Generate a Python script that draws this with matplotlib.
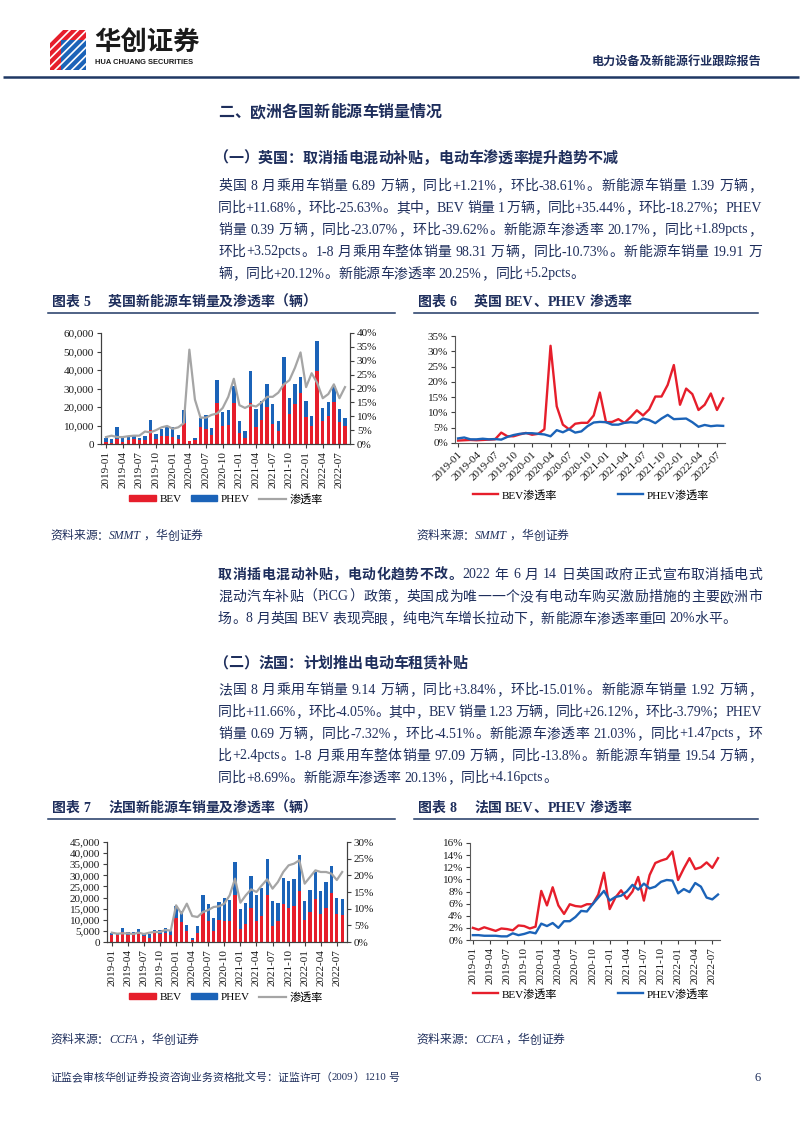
import re
import numpy as np
import pandas as pd
import matplotlib
matplotlib.use('Agg')
import matplotlib.pyplot as plt
from matplotlib.patches import Patch, Polygon
from matplotlib.lines import Line2D
from matplotlib.ticker import FuncFormatter, PercentFormatter, MultipleLocator
from matplotlib.font_manager import FontProperties, findfont, get_font

plt.rcParams['font.family'] = ['Liberation Serif', 'Noto Sans CJK SC']
plt.rcParams['hatch.linewidth'] = 1.2

# ---------------- data ----------------
months = pd.period_range('2019-01', '2022-08', freq='M').strftime('%Y-%m').tolist()

# UK monthly sales (units)
uk_bev = [1000, 800, 2600, 1000, 2000, 2500, 2000, 2000, 7500, 2800, 4500, 4500,
          4000, 2500, 11500, 1500, 2000, 9000, 8000, 5000, 22000, 9500, 10500, 22000,
          6000, 3500, 22000, 9000, 13000, 20000, 11000, 7000, 32500, 16000, 21500, 27500,
          14500, 10000, 39500, 12500, 15000, 22500, 12000, 10000]
uk_phev = [2000, 1700, 6400, 2000, 2500, 2500, 1500, 2500, 5500, 2700, 3500, 4500,
           5000, 2500, 7000, 300, 1500, 5000, 7500, 3500, 12500, 8000, 8000, 9500,
           6500, 3500, 17500, 10000, 10000, 12500, 10500, 5500, 14500, 9000, 11000, 8500,
           9000, 5000, 16000, 7000, 7500, 9000, 7000, 3900]
uk_pen = [2.5, 3.0, 2.5, 2.5, 2.8, 3.0, 3.0, 4.5, 4.2, 5.0, 6.0, 6.5,
          5.5, 6.0, 7.5, 34.0, 16.0, 9.5, 9.5, 10.5, 11.0, 13.0, 17.0, 23.5,
          14.0, 13.0, 14.0, 13.5, 15.0, 17.0, 17.0, 18.5, 21.5, 23.0, 27.5, 33.0,
          20.5, 25.5, 22.0, 16.5, 18.0, 21.5, 16.5, 20.5]
uk_bev_pen = [0.8, 0.9, 1.0, 0.9, 1.0, 1.1, 1.2, 3.4, 2.2, 2.2, 2.8, 3.3,
              2.7, 3.0, 4.5, 31.8, 12.0, 6.0, 4.5, 6.3, 6.6, 6.6, 9.0, 16.5,
              6.8, 6.9, 7.8, 6.6, 8.5, 10.7, 9.0, 11.0, 15.2, 15.2, 19.0, 25.5,
              12.5, 17.8, 16.0, 10.8, 12.5, 16.2, 10.8, 14.6]
uk_phev_pen = [1.5, 1.8, 1.2, 1.2, 1.4, 1.2, 1.3, 1.1, 2.0, 2.6, 3.0, 3.2,
               3.2, 3.0, 2.8, 2.2, 4.2, 3.5, 4.5, 3.4, 3.8, 5.5, 6.7, 6.9,
               6.8, 6.0, 6.0, 6.6, 6.8, 6.6, 8.0, 7.5, 6.5, 8.0, 9.2, 7.8,
               7.9, 8.0, 6.8, 5.3, 5.9, 5.5, 5.7, 5.6]

# France monthly sales (units)
fr_bev = [3000, 3200, 4300, 3300, 3000, 4000, 2800, 2000, 4200, 3600, 4000, 3000,
          11000, 9000, 5000, 1000, 4000, 13000, 9500, 5000, 10000, 9500, 9500, 21000,
          6000, 8000, 15500, 9500, 11500, 21000, 7000, 9500, 17000, 15500, 16000, 23000,
          10000, 13500, 19500, 12500, 15500, 22000, 12500, 12300]
fr_phev = [1000, 800, 1900, 1200, 1300, 2000, 1000, 1500, 1300, 2000, 2500, 2600,
           5000, 5000, 2500, 800, 3000, 8000, 7500, 6000, 8000, 10500, 9500, 15000,
           9000, 9500, 14000, 11500, 13000, 16500, 11500, 8000, 12000, 12000, 12500, 16000,
           8500, 10000, 12000, 10500, 11500, 12000, 7500, 6900]
fr_pen = [2.8, 2.5, 2.6, 2.6, 2.4, 2.8, 2.4, 2.8, 3.0, 3.0, 3.6, 3.4,
          11.0, 8.5, 11.5, 7.8, 7.5, 9.0, 9.6, 10.5, 10.7, 11.5, 14.0, 19.0,
          11.8, 14.0, 15.8, 15.0, 17.0, 18.8, 16.0, 18.0, 21.0, 23.0, 23.5, 24.5,
          17.5, 19.5, 21.5, 21.0, 21.0, 20.5, 18.6, 21.0]
fr_bev_pen = [2.0, 1.7, 2.1, 1.8, 1.5, 1.9, 1.8, 1.6, 2.4, 2.3, 1.9, 2.2,
              8.1, 5.7, 8.7, 5.7, 4.3, 5.9, 5.6, 5.5, 5.9, 5.9, 7.5, 11.1,
              5.1, 7.0, 8.2, 6.8, 8.0, 10.4, 6.5, 10.7, 12.7, 13.1, 13.4, 14.6,
              9.9, 11.8, 13.5, 11.7, 12.0, 12.8, 11.9, 13.5]
fr_phev_pen = [0.8, 0.8, 0.7, 0.7, 0.7, 0.6, 0.6, 1.1, 0.8, 1.0, 1.3, 1.1,
               2.7, 2.3, 2.8, 2.0, 3.1, 3.1, 3.8, 4.8, 4.7, 5.9, 7.0, 8.1,
               6.5, 7.1, 7.3, 8.0, 9.1, 8.3, 9.3, 8.5, 8.8, 9.6, 9.9, 9.8,
               7.7, 8.4, 7.9, 9.4, 8.8, 7.0, 6.7, 7.5]

uk_text = [
    "英国 8 月乘用车销量 6.89 万辆，同比+1.21%，环比-38.61%。新能源车销量 1.39 万辆，",
    "同比+11.68%，环比-25.63%。其中，BEV 销量 1 万辆，同比+35.44%，环比-18.27%；PHEV",
    "销量 0.39 万辆，同比-23.07%，环比-39.62%。新能源车渗透率 20.17%，同比+1.89pcts，",
    "环比+3.52pcts。1-8 月乘用车整体销量 98.31 万辆，同比-10.73%。新能源车销量 19.91 万",
    "辆，同比+20.12%。新能源车渗透率 20.25%，同比+5.2pcts。",
]
uk_text2 = [
    [("取消插电混动补贴，电动化趋势不改。", 'bold'), ("2022 年 6 月 14 日英国政府正式宣布取消插电式", 'normal')],
    [("混动汽车补贴（PiCG）政策，英国成为唯一一个没有电动车购买激励措施的主要欧洲市", 'normal')],
    [("场。8 月英国 BEV 表现亮眼，纯电汽车增长拉动下，新能源车渗透率重回 20%水平。", 'normal')],
]
fr_text = [
    "法国 8 月乘用车销量 9.14 万辆，同比+3.84%，环比-15.01%。新能源车销量 1.92 万辆，",
    "同比+11.66%，环比-4.05%。其中，BEV 销量 1.23 万辆，同比+26.12%，环比-3.79%；PHEV",
    "销量 0.69 万辆，同比-7.32%，环比-4.51%。新能源车渗透率 21.03%，同比+1.47pcts，环",
    "比+2.4pcts。1-8 月乘用车整体销量 97.09 万辆，同比-13.8%。新能源车销量 19.54 万辆，",
    "同比+8.69%。新能源车渗透率 20.13%，同比+4.16pcts。",
]

# ---------------- page ----------------
W, H = 802, 1133
NAVY = '#1E2E5C'
RED = '#E61E2B'
BLUE = '#1B63B8'
GRAY = '#A5A5A5'
AX = '#404040'

fig = plt.figure(figsize=(W / 100, H / 100), dpi=100)
page = fig.add_axes([0, 0, 1, 1], zorder=-5)
page.set_xlim(0, W)
page.set_ylim(H, 0)
page.axis('off')

LAT, CJK = 'Liberation Serif', 'Noto Sans CJK SC'


def advance(ch, fam, wt, size):
    f = get_font(findfont(FontProperties(family=fam, weight=wt)))
    f.set_size(size, 100)
    return f.load_char(ord(ch)).linearHoriAdvance / 65536


def line_of_text(x, y, segs, size, width=None, color=NAVY, style='normal'):
    # lay a line out chunk by chunk so full lines can be justified like the report
    items = []
    for txt, wt in segs:
        for c in re.findall(r'[\x21-\x7e]+| |[^\x21-\x7e ]', txt):
            items.append((c, wt))
    widths = []
    for c, wt in items:
        if c == ' ':
            widths.append(size / 72 * 100 * 0.25)
        else:
            fam = LAT if c.isascii() else CJK
            widths.append(sum(advance(ch, fam, wt, size) for ch in c))
    gap = 0
    if width is not None and len(items) > 1:
        gap = (width - sum(widths)) / (len(items) - 1)
    cur = x
    for (c, wt), w in zip(items, widths):
        if c != ' ':
            page.text(cur, y, c, fontsize=size, fontweight=wt, color=color,
                      family=LAT if c.isascii() else CJK, fontstyle=style,
                      ha='left', va='center')
        cur += w + gap


# header
page.add_patch(Polygon([(50, 43), (63, 30), (86, 30), (86, 40), (61, 40), (61, 70), (50, 70)],
                       closed=True, facecolor=RED, edgecolor='white', hatch='////', lw=0))
page.add_patch(Polygon([(61, 40), (86, 40), (86, 70), (61, 70)],
                       closed=True, facecolor=BLUE, edgecolor='white', hatch='////', lw=0))
page.text(94, 42, "华创证券", fontsize=19, fontweight='heavy', family=CJK, color='#1a1a1a',
          ha='left', va='center')
page.text(95, 62, "HUA CHUANG SECURITIES", fontsize=5.4, fontweight='bold',
          family='Liberation Sans', color='#1a1a1a', ha='left', va='center')
page.text(761, 62, "电力设备及新能源行业跟踪报告", fontsize=8.7, fontweight='bold', family=CJK,
          color=NAVY, ha='right', va='center')
page.plot([3, 799], [77, 77], color='#1F3864', lw=1.8, solid_capstyle='butt')

# headings and paragraphs
BODY = 10
line_of_text(218, 112, [("二、欧洲各国新能源车销量情况", 'bold')], 11.5)
line_of_text(213, 158, [("（一）英国：取消插电混动补贴，电动车渗透率提升趋势不减", 'bold')], 10.8)
for i, s in enumerate(uk_text):
    line_of_text(218, 186 + 22 * i, [(s, 'normal')], BODY,
                 width=544 if i < len(uk_text) - 1 else None)
for i, segs in enumerate(uk_text2):
    line_of_text(218, 575 + 22 * i, segs, BODY,
                 width=544 if i < len(uk_text2) - 1 else None)
line_of_text(213, 663, [("（二）法国：计划推出电动车租赁补贴", 'bold')], 10.8)
for i, s in enumerate(fr_text):
    line_of_text(218, 690 + 22 * i, [(s, 'normal')], BODY,
                 width=544 if i < len(fr_text) - 1 else None)

# figure titles / underlines / sources
for (x0, x1, y, num, title) in [
        (50, 395, 302, "图表 5", "英国新能源车销量及渗透率（辆）"),
        (416, 758, 302, "图表 6", "英国 BEV、PHEV 渗透率"),
        (50, 395, 808, "图表 7", "法国新能源车销量及渗透率（辆）"),
        (416, 758, 808, "图表 8", "法国 BEV、PHEV 渗透率")]:
    line_of_text(x0 + 2, y, [(num, 'bold')], 10)
    line_of_text(x0 + 58, y, [(title, 'bold')], 10)
    page.plot([x0 - 2, x1], [y + 11, y + 11], color='#1F3864', lw=1.1)

for (x0, y, src) in [(50, 536, "SMMT"), (416, 536, "SMMT"), (50, 1040, "CCFA"), (416, 1040, "CCFA")]:
    line_of_text(x0, y, [("资料来源：" + src + "，华创证券", 'normal')], 8.5, style='italic')

# footer
line_of_text(50, 1078, [("证监会审核华创证券投资咨询业务资格批文号：证监许可（2009）1210 号", 'normal')], 7.8)
page.text(761, 1078, "6", fontsize=9, family=LAT, color=NAVY, ha='right', va='center')

x = np.arange(len(months))


def rect(x0, x1, ytop, ybot):
    return [x0 / W, 1 - ybot / H, (x1 - x0) / W, (ybot - ytop) / H]


def style_ticks(a):
    a.tick_params(labelsize=8, length=3, width=0.8, color=AX, pad=2, labelcolor='#1a1a1a')


def bar_chart(r, bev, phev, pen, ymax, ystep, rmax, rstep, leg_xy):
    ax = fig.add_axes(r)
    ax.bar(x, bev, width=0.62, color=RED, zorder=2)
    ax.bar(x, phev, bottom=bev, width=0.62, color=BLUE, zorder=2)
    ax.set_xlim(-0.9, len(x) - 0.1)
    ax.set_ylim(0, ymax)
    ax.yaxis.set_major_locator(MultipleLocator(ystep))
    ax.yaxis.set_major_formatter(FuncFormatter(lambda v, p: f'{v:,.0f}'))
    ax.set_xticks(x[::3])
    ax.set_xticklabels(months[::3], rotation=90)
    ax2 = ax.twinx()
    ax2.plot(x, pen, color=GRAY, lw=1.6)
    ax2.set_ylim(0, rmax)
    ax2.yaxis.set_major_locator(MultipleLocator(rstep))
    ax2.yaxis.set_major_formatter(PercentFormatter(100, decimals=0))
    for a in (ax, ax2):
        a.spines['top'].set_visible(False)
        for s in ('left', 'right', 'bottom'):
            a.spines[s].set_color(AX)
            a.spines[s].set_linewidth(0.8)
        style_ticks(a)
    handles = [Patch(color=RED, label='BEV'), Patch(color=BLUE, label='PHEV'),
               Line2D([], [], color=GRAY, lw=1.6, label='渗透率')]
    fig.legend(handles=handles, loc='center', bbox_to_anchor=(leg_xy[0] / W, 1 - leg_xy[1] / H),
               ncol=3, frameon=False, fontsize=8, handlelength=2.4, handleheight=0.45,
               handletextpad=0.35, columnspacing=0.8)


def line_chart(r, bev_pen, phev_pen, ymax, ystep, rot, xlim, leg_xy):
    ax = fig.add_axes(r)
    ax.plot(x, bev_pen, color=RED, lw=1.7)
    ax.plot(x, phev_pen, color=BLUE, lw=1.7)
    ax.set_xlim(*xlim)
    ax.set_ylim(0, ymax)
    ax.yaxis.set_major_locator(MultipleLocator(ystep))
    ax.yaxis.set_major_formatter(PercentFormatter(100, decimals=0))
    ax.set_xticks(x[::3])
    if rot == 45:
        ax.set_xticklabels(months[::3], rotation=45, ha='right', rotation_mode='anchor')
    else:
        ax.set_xticklabels(months[::3], rotation=90)
    for s in ('top', 'right'):
        ax.spines[s].set_visible(False)
    for s in ('left', 'bottom'):
        ax.spines[s].set_color('#595959')
        ax.spines[s].set_linewidth(0.8)
    style_ticks(ax)
    handles = [Line2D([], [], color=RED, lw=1.7, label='BEV渗透率'),
               Line2D([], [], color=BLUE, lw=1.7, label='PHEV渗透率')]
    fig.legend(handles=handles, loc='center', bbox_to_anchor=(leg_xy[0] / W, 1 - leg_xy[1] / H),
               ncol=2, frameon=False, fontsize=8, handlelength=2.2,
               handletextpad=0.35, columnspacing=5.5)


bar_chart(rect(101, 350, 333, 444), uk_bev, uk_phev, uk_pen, 60000, 10000, 40, 5, (226, 499))
line_chart(rect(455, 725, 336, 443), uk_bev_pen, uk_phev_pen, 35, 5, 45, (-0.5, 43.3), (591, 495))
bar_chart(rect(107, 347, 842, 942), fr_bev, fr_phev, fr_pen, 45000, 5000, 30, 5, (226, 997))
line_chart(rect(470, 720, 843, 940), fr_bev_pen, fr_phev_pen, 16, 2, 90, (-0.5, 43.35), (591, 994))

fig.savefig('out.png', dpi=100)
